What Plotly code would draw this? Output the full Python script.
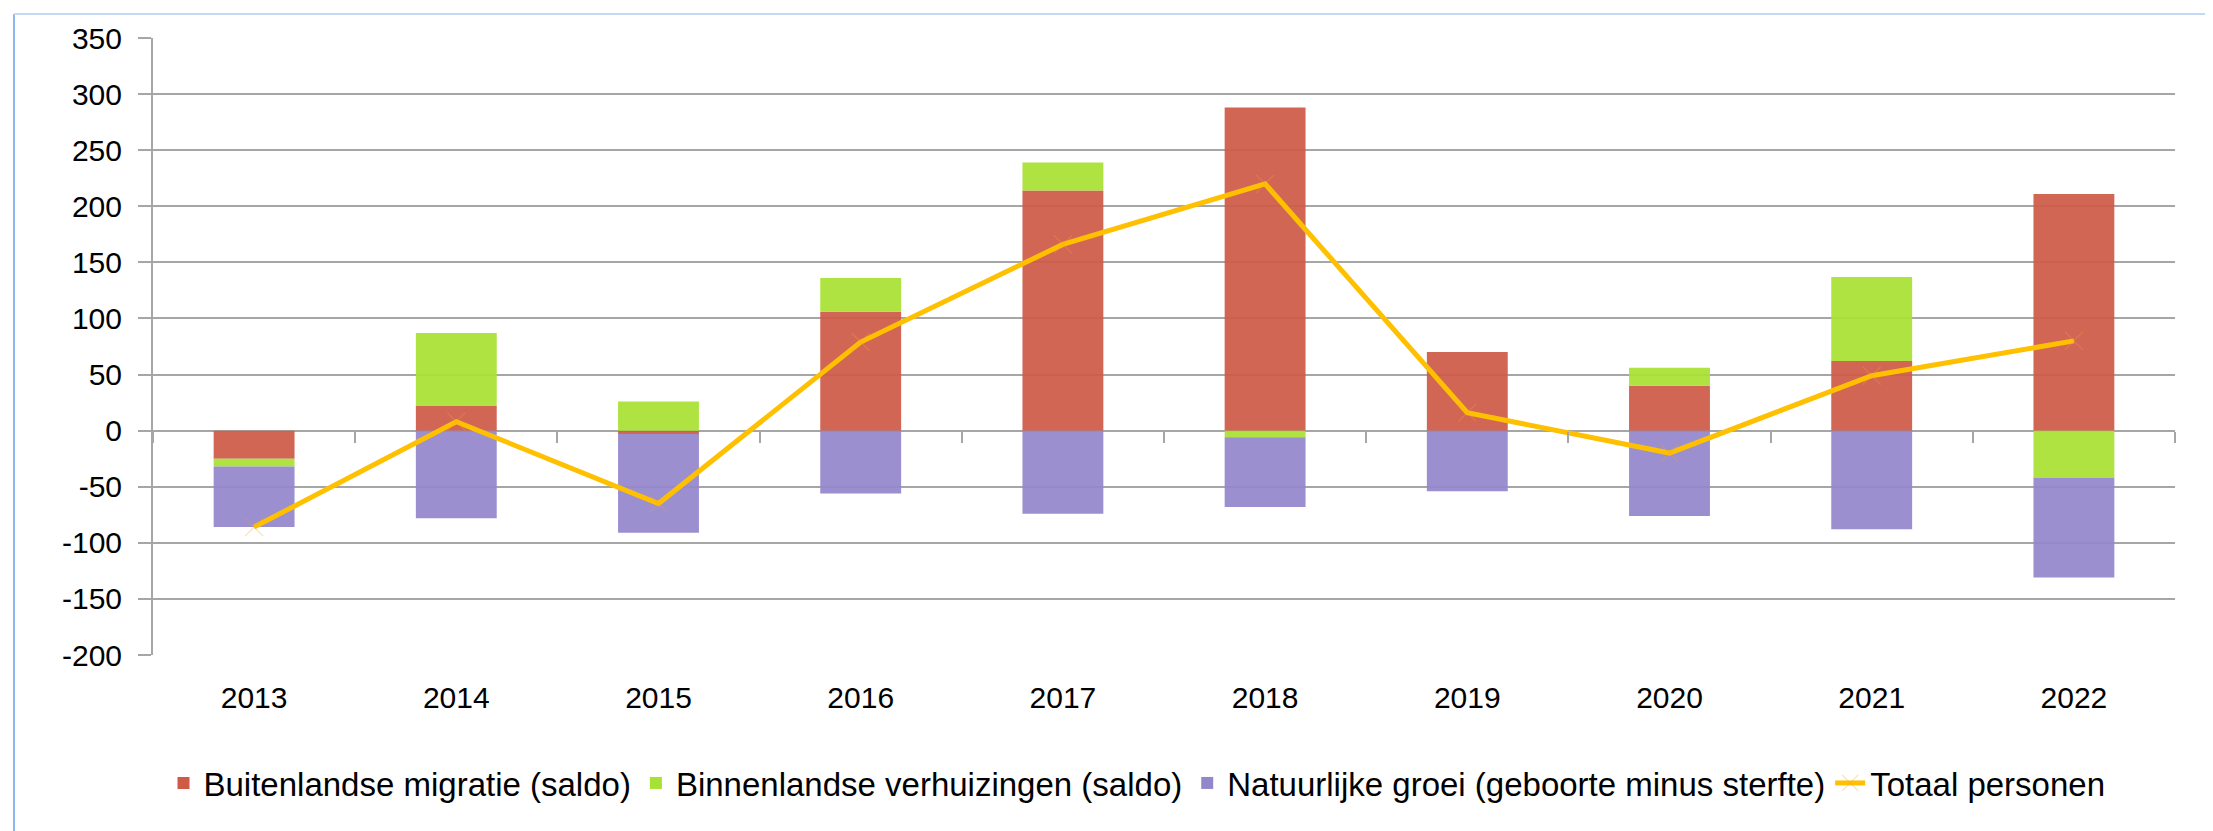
import plotly.graph_objects as go

years = ["2013", "2014", "2015", "2016", "2017", "2018", "2019", "2020", "2021", "2022"]
buitenlandse = [-25, 22, -3, 106, 214, 288, 70, 40, 62, 211]
binnenlandse = [-7, 65, 26, 30, 25, -6, 0, 16, 75, -42]
natuurlijke = [-54, -78, -88, -56, -74, -62, -54, -76, -88, -89]
totaal = [-86, 8, -65, 79, 166, 220, 16, -20, 49, 80]

names = [
    "Buitenlandse migratie (saldo)",
    "Binnenlandse verhuizingen (saldo)",
    "Natuurlijke groei (geboorte minus sterfte)",
    "Totaal personen",
]
y_ticks = [350, 300, 250, 200, 150, 100, 50, 0, -50, -100, -150, -200]
y_ticktext = ["350", "300", "250", "200", "150", "100", "50", "0", "-50", "-100", "-150", "-200"]

FONT = "Liberation Sans, Arial, sans-serif"
GRID = "#A6A6A6"

W, H = 2213, 831
L, R, T, B = 145, 46, 30, 184
ymin, ymax = -200, 350

fig = go.Figure()
for vals, name, col in [
    (buitenlandse, names[0], "#CF5A47"),
    (binnenlandse, names[1], "#A8E133"),
    (natuurlijke, names[2], "#9387CB"),
]:
    fig.add_trace(go.Bar(x=years, y=vals, name=name,
                         marker=dict(color=col, opacity=0.93, line=dict(width=0))))

fig.add_trace(go.Scatter(
    x=years, y=totaal, name=names[3], mode="lines+markers", xaxis="x2",
    line=dict(color="#FFC000", width=5),
    marker=dict(symbol="x-thin", size=18, line=dict(width=1.2, color="rgba(240,160,60,0.35)"),
                color="rgba(240,160,60,0.35)"),
))

zero_pos = (0 - ymin) / (ymax - ymin)
plot_w = W - L - R
plot_h = H - T - B

fig.update_layout(
    width=W, height=H,
    margin=dict(l=L, r=R, t=T, b=B, pad=0),
    barmode="relative",
    bargap=0.6,
    paper_bgcolor="white", plot_bgcolor="white",
    font=dict(family=FONT, size=30, color="black"),
    showlegend=True,
    legend=dict(orientation="h", x=(1129 - L) / plot_w, xanchor="center",
                y=(H - B - 775) / plot_h, yanchor="middle",
                font=dict(family=FONT, size=33, color="black"),
                itemwidth=30, tracegroupgap=0, traceorder="normal"),
    xaxis=dict(type="category", categoryarray=years, range=[-0.5, 9.5],
               showgrid=False, ticks="", showline=False, zeroline=False,
               tickfont=dict(family=FONT, size=30), ticklabelstandoff=22),
    xaxis2=dict(type="category", matches="x", overlaying="x", anchor="free",
                position=zero_pos, side="bottom", showticklabels=False,
                ticks="outside", ticklen=11, tickwidth=2, tickcolor=GRID,
                tickson="boundaries", showgrid=False, showline=False, zeroline=False),
    yaxis=dict(range=[ymin, ymax], tickvals=y_ticks, ticktext=y_ticktext,
               showgrid=True, gridcolor=GRID,
               gridwidth=2, zeroline=True, zerolinecolor=GRID, zerolinewidth=2,
               showline=True, linecolor=GRID, linewidth=2,
               ticks="outside", ticklen=13, tickwidth=2, tickcolor=GRID,
               tickfont=dict(family=FONT, size=30), ticklabelstandoff=10),
    shapes=[
        dict(type="line", xref="paper", yref="paper",
             x0=(6 - L) / plot_w, x1=(6 - L) / plot_w,
             y0=(H - B - (H + 10)) / plot_h, y1=(H - B - 6) / plot_h,
             line=dict(color="#8DB6F0", width=2), layer="below"),
        dict(type="line", xref="paper", yref="paper",
             x0=(6 - L) / plot_w, x1=(W - L) / plot_w,
             y0=(H - B - 6) / plot_h, y1=(H - B - 6) / plot_h,
             line=dict(color="#C4D9F6", width=2), layer="below"),
    ],
)

fig.write_html("out.html")
